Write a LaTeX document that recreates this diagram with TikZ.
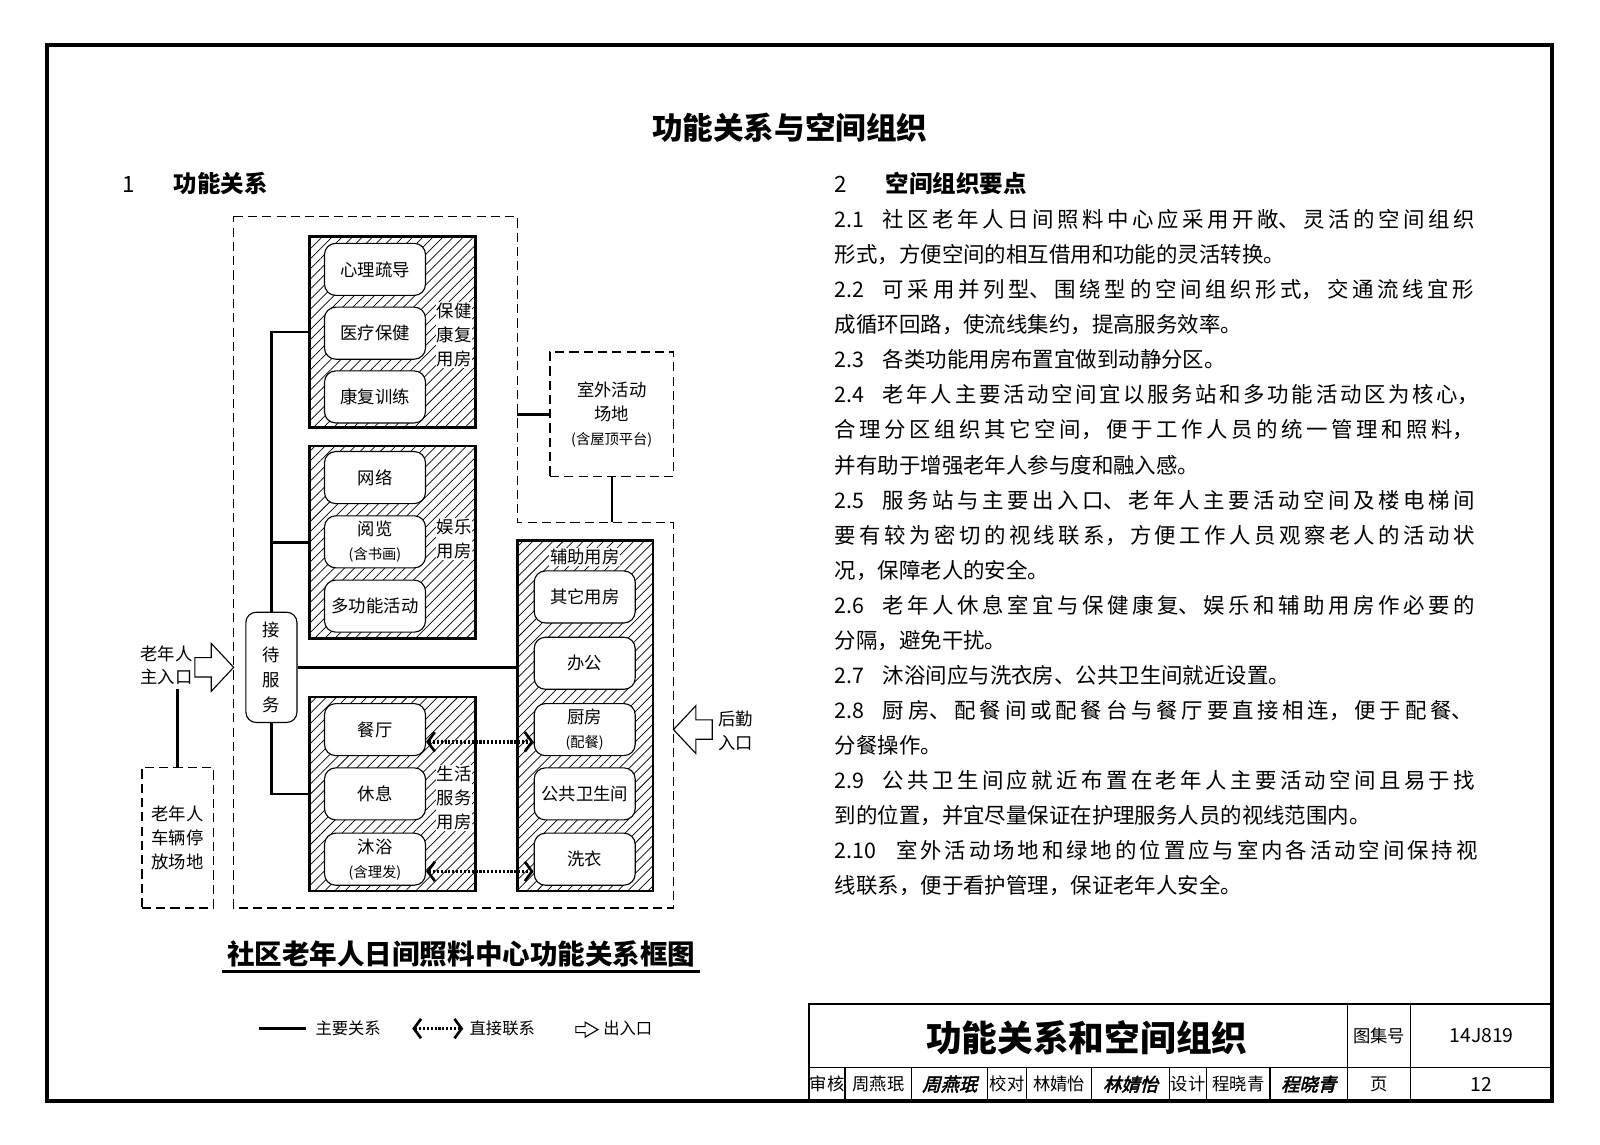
\documentclass[tikz,border=0pt]{standalone}
\usepackage{fontspec}
\setmainfont{Noto Sans CJK SC}
\newfontfamily\signfont{Noto Sans CJK SC}[FakeSlant=0.25,FakeBold=2.5]
\usetikzlibrary{patterns.meta,arrows.meta}
\XeTeXlinebreaklocale "zh"
\XeTeXlinebreakskip=0pt plus 8pt

\newcommand{\diagfont}{\fontsize{17}{23.5}\selectfont}
\newcommand{\notefont}{\fontsize{14}{23.5}\selectfont}
\newcommand{\bodyfont}{\fontsize{21}{34.4}\selectfont}
\newcommand{\cellfont}{\fontsize{17}{20}\selectfont}
\newcommand{\itemno}[1]{\makebox[47pt][l]{#1}}
\newcommand{\itemnolong}[1]{\makebox[60pt][l]{#1}}
\def\jst{0pt}
\def\rag{0pt plus 1fil}

\tikzset{
	doorarrow/.pic={
		\draw[line width=1.1pt, fill=white] (0,0) -- (-22,-23.5) -- (-22,-9.5) -- (-38,-9.5)
			-- (-38,9.5) -- (-22,9.5) -- (-22,23.5) -- cycle;
	}
}

\begin{document}
\begin{tikzpicture}[x=1pt, y=-1pt,
	zone/.style={line width=1.4pt, dash pattern=on 9pt off 5pt},
	roomgroup/.style={draw, line width=2.6pt, pattern={Lines[angle=45,distance=7pt,line width=0.7pt]}, minimum width=163pt, inner sep=0pt},
	room/.style={draw, fill=white, rounded corners=11pt, line width=1.1pt, minimum width=99pt, minimum height=51pt, inner sep=1pt, align=center, font=\diagfont},
	grouplabel/.style={fill=white, inner sep=1pt, align=center, font=\diagfont},
	mainline/.style={line width=2.4pt},
	link/.style={line width=3.6pt, dash pattern=on 2pt off 1.8pt,
		{Straight Barb[length=7pt,width=19pt,line width=2.6pt]}-{Straight Barb[length=7pt,width=19pt,line width=2.6pt]}},
	bodyline/.style={anchor=base west, inner sep=0pt, text width=645pt, font=\bodyfont},
	cell/.style={font=\cellfont, inner sep=0pt},
]
	\useasboundingbox (0,0) rectangle (1568,1122);
	\draw [line width=4pt] (46,44) rectangle (1521,1079);

	\node [font=\bfseries\fontsize{30}{36}\selectfont] (title) at (774,125) {功能关系与空间组织};
	\node [font=\fontsize{22}{26}\selectfont] (no1) at (126,181) {1};
	\node [anchor=west, inner sep=0pt, font=\bfseries\fontsize{23}{28}\selectfont] (head1) at (170,180) {功能关系};
	\node [font=\fontsize{22}{26}\selectfont] (no2) at (824,181) {2};
	\node [anchor=west, inner sep=0pt, font=\bfseries\fontsize{23}{28}\selectfont] (head2) at (868,180) {空间组织要点};

	% dashed building outline
	\coordinate (zoneNW) at (229,212);
	\coordinate (zoneNE) at (507,212);
	\coordinate (zoneStep) at (507,512);
	\coordinate (zoneE) at (660,512);
	\coordinate (zoneSE) at (660,890);
	\coordinate (zoneSW) at (229,890);
	\draw [zone] (zoneNW) -- (zoneNE) -- (zoneStep) -- (zoneE) -- (zoneSE) -- (zoneSW) -- cycle;

	% room groups
	\node [roomgroup, minimum height=187pt] (care) at (384.5,325.5) {};
	\node [roomgroup, minimum height=189pt] (leisure) at (384.5,531.5) {};
	\node [roomgroup, minimum height=190pt] (living) at (384.5,778) {};
	\node [roomgroup, minimum width=133pt, minimum height=343pt] (aux) at (573.5,701.5) {};

	\node [room] (psych) at (367.5,264) {心理疏导};
	\node [room] (medic) at (367.5,326.5) {医疗保健};
	\node [room] (rehab) at (367.5,389) {康复训练};
	\node [room] (net) at (367.5,468) {网络};
	\node [room] (read) at (367.5,531) {阅览\\{\notefont(含书画)}};
	\node [room] (multi) at (367.5,594) {多功能活动};
	\node [room] (dining) at (367.5,715) {餐厅};
	\node [room] (rest) at (367.5,778) {休息};
	\node [room] (bath) at (367.5,842) {沐浴\\{\notefont(含理发)}};
	\node [room] (other) at (573,585) {其它用房};
	\node [room] (office) at (573,650) {办公};
	\node [room] (kitchen) at (573,715) {厨房\\{\notefont(配餐)}};
	\node [room] (toilet) at (573,778) {公共卫生间};
	\node [room] (laundry) at (573,842) {洗衣};

	\node [grouplabel] (carelabel) at (445,328) {保健\\康复\\用房};
	\node [grouplabel] (leisurelabel) at (445,528) {娱乐\\用房};
	\node [grouplabel] (livinglabel) at (445,782) {生活\\服务\\用房};
	\node [grouplabel] (auxlabel) at (573,546) {辅助用房};

	\node [room, minimum width=50pt, minimum height=108pt, rounded corners=10pt, font=\fontsize{17}{24.5}\selectfont] (recep) at (266,654) {接\\待\\服\\务};

	\draw [mainline] (recep.north) |- (care.west);
	\draw [mainline] (recep.north) |- (leisure.west);
	\draw [mainline] (recep.south) |- (living.west);
	\draw [mainline] (recep.east) -- (recep.east -| aux.west);

	% outdoor area and parking
	\node [draw, zone, minimum width=121pt, minimum height=122pt, align=center, font=\diagfont] (yard) at (599.5,406) {室外活动\\场地\\{\notefont(含屋顶平台)}};
	\draw [mainline] (yard.west) -- (yard.west -| zoneNE);
	\draw [mainline] (yard.south) -- (yard.south |- zoneE);

	\node [draw, zone, minimum width=70pt, minimum height=138pt, align=center, font=\diagfont] (park) at (174,821) {老年人\\车辆停\\放场地};
	\node [align=center, font=\diagfont] (mainin) at (163,652) {老年人\\主入口};
	\draw [mainline] (park.north) -- (park.north |- mainin.south);

	\pic at (zoneNW |- recep.west) {doorarrow};
	\pic [rotate=180] at (zoneSE |- kitchen.east) {doorarrow};
	\node [align=center, font=\diagfont] (backin) at (721,716) {后勤\\入口};

	\draw [link] ([yshift=-12pt]dining.east) -- ([yshift=-12pt]kitchen.west);
	\draw [link] ([yshift=-12pt]bath.east) -- ([yshift=-12pt]laundry.west);

	\node [font=\bfseries\fontsize{27}{32}\selectfont] (caption) at (452,935) {社区老年人日间照料中心功能关系框图};
	\draw [line width=3pt] (218,952) -- (686,952);

	% legend
	\coordinate (keyA) at (254,1008);
	\coordinate (keyB) at (300,1008);
	\coordinate (keyC) at (404,1008);
	\coordinate (keyD) at (454,1008);
	\draw [mainline] (keyA) -- (keyB);
	\node [anchor=west, inner sep=0pt, font=\fontsize{16}{18}\selectfont] (keymain) at (309,1008) {主要关系};
	\draw [link] (keyC) -- (keyD);
	\node [anchor=west, inner sep=0pt, font=\fontsize{16}{18}\selectfont] (keylink) at (460,1008) {直接联系};
	\pic [xscale=0.57, yscale=0.31] at (586,1009) {doorarrow};
	\node [anchor=west, inner sep=0pt, font=\fontsize{16}{18}\selectfont] (keydoor) at (591,1008) {出入口};

	% text column
	\foreach \pf/\lt [count=\i] in {
		\jst/{\itemno{2.1}社区老年人日间照料中心应采用开敞、灵活的空间组织},
		\rag/{形式，方便空间的相互借用和功能的灵活转换。},
		\jst/{\itemno{2.2}可采用并列型、围绕型的空间组织形式，交通流线宜形},
		\rag/{成循环回路，使流线集约，提高服务效率。},
		\rag/{\itemno{2.3}各类功能用房布置宜做到动静分区。},
		\jst/{\itemno{2.4}老年人主要活动空间宜以服务站和多功能活动区为核心，},
		\jst/{合理分区组织其它空间，便于工作人员的统一管理和照料，},
		\rag/{并有助于增强老年人参与度和融入感。},
		\jst/{\itemno{2.5}服务站与主要出入口、老年人主要活动空间及楼电梯间},
		\jst/{要有较为密切的视线联系，方便工作人员观察老人的活动状},
		\rag/{况，保障老人的安全。},
		\jst/{\itemno{2.6}老年人休息室宜与保健康复、娱乐和辅助用房作必要的},
		\rag/{分隔，避免干扰。},
		\rag/{\itemno{2.7}沐浴间应与洗衣房、公共卫生间就近设置。},
		\jst/{\itemno{2.8}厨房、配餐间或配餐台与餐厅要直接相连，便于配餐、},
		\rag/{分餐操作。},
		\jst/{\itemno{2.9}公共卫生间应就近布置在老年人主要活动空间且易于找},
		\rag/{到的位置，并宜尽量保证在护理服务人员的视线范围内。},
		\jst/{\itemnolong{2.10}室外活动场地和绿地的位置应与室内各活动空间保持视},
		\rag/{线联系，便于看护管理，保证老年人安全。}}
		\node [bodyline, execute at begin node={\parfillskip=\pf\relax}] (text\i) at (818,{223+34.37*(\i-1)}) {\lt};

	% title block
	\draw [line width=2.5pt] (793,1079) -- (793,984) -- (1521,984);
	\draw [line width=1.2pt] (793,1046) -- (1521,1046);
	\draw [line width=1.2pt] (1320.4,984) -- (1320.4,1079);
	\draw [line width=1.2pt] (1382.5,984) -- (1382.5,1079);
	\foreach \x in {828,893.5,968,1006,1070,1146,1182.6,1244.6}
		\draw [line width=1.2pt] (\x,1046) -- (\x,1079);
	\node [font=\bfseries\fontsize{35}{40}\selectfont] (sheettitle) at (1065,1017) {功能关系和空间组织};
	\node [cell] (atlaskey) at (1351.5,1015) {图集号};
	\node [cell, font=\fontsize{19}{22}\selectfont] (atlasno) at (1452,1015) {14J819};
	\node [cell] (checkkey) at (810.5,1062.5) {审核};
	\node [cell] (checkname) at (860.8,1062.5) {周燕珉};
	\node [cell, font=\signfont\fontsize{18}{20}\selectfont] (checksign) at (930.8,1062.5) {周燕珉};
	\node [cell] (proofkey) at (987,1062.5) {校对};
	\node [cell] (proofname) at (1038,1062.5) {林婧怡};
	\node [cell, font=\signfont\fontsize{18}{20}\selectfont] (proofsign) at (1108,1062.5) {林婧怡};
	\node [cell] (designkey) at (1164.3,1062.5) {设计};
	\node [cell] (designname) at (1213.6,1062.5) {程晓青};
	\node [cell, font=\signfont\fontsize{18}{20}\selectfont] (designsign) at (1282.5,1062.5) {程晓青};
	\node [cell] (pagekey) at (1351.5,1062.5) {页};
	\node [cell, font=\fontsize{19}{22}\selectfont] (pageno) at (1452,1062.5) {12};
\end{tikzpicture}
\end{document}
